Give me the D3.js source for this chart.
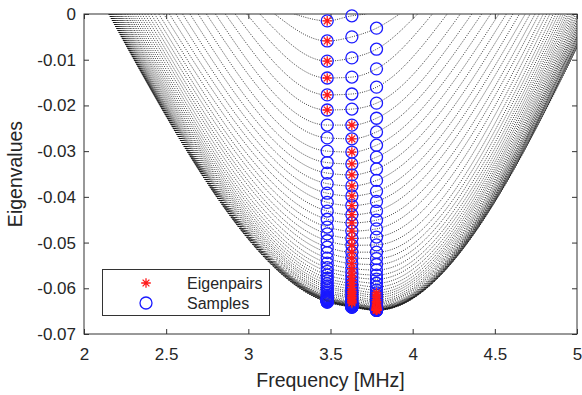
<!DOCTYPE html>
<html>
<head>
<meta charset="utf-8">
<script src="https://cdn.jsdelivr.net/npm/d3@7"></script>
<style>
  body { margin: 0; background: #fff; }
  text { font-family: "Liberation Sans", Arial, Helvetica, sans-serif; fill: #262626; }
</style>
</head>
<body>
<div id="chart"></div>
<script>
// sample frequencies (MHz) where the eigenvalue curves were sampled
const sampleFreqs = [3.48, 3.63, 3.78];

// eigenvalue of each curve (top to bottom) at 3.48, 3.63 and 3.78 MHz
const samplesA = [
  -0.0015, -0.0059, -0.0103, -0.0140, -0.0177, -0.0210, -0.0243, -0.0271, -0.0300, -0.0325,
  -0.0348, -0.0371, -0.0392, -0.0412, -0.0431, -0.0449, -0.0466, -0.0481, -0.0496, -0.0510,
  -0.0522, -0.0534, -0.0545, -0.0555, -0.0563, -0.0571, -0.0578, -0.0584, -0.0590, -0.0595,
  -0.0599, -0.0604, -0.0608, -0.0611, -0.0615, -0.0618, -0.0620, -0.0621, -0.0622, -0.0623,
  -0.0624, -0.0625, -0.0625, -0.0626, -0.0626, -0.0627, -0.0627, -0.0628, -0.0628, -0.0629,
  -0.0629, -0.0629, -0.0630, -0.0630,
];
const samplesB = [
  -0.0004, -0.0050, -0.0096, -0.0138, -0.0175, -0.0208, -0.0243, -0.0273, -0.0302, -0.0328,
  -0.0352, -0.0376, -0.0398, -0.0419, -0.0439, -0.0457, -0.0475, -0.0491, -0.0506, -0.0521,
  -0.0534, -0.0546, -0.0557, -0.0567, -0.0575, -0.0583, -0.0590, -0.0596, -0.0602, -0.0607,
  -0.0611, -0.0616, -0.0620, -0.0623, -0.0627, -0.0630, -0.0632, -0.0633, -0.0634, -0.0635,
  -0.0636, -0.0637, -0.0637, -0.0638, -0.0638, -0.0639, -0.0639, -0.0639, -0.0640, -0.0640,
  -0.0640, -0.0641, -0.0641, -0.0641,
];
const samplesC = [
  null, -0.0031, -0.0077, -0.0120, -0.0160, -0.0195, -0.0228, -0.0258, -0.0287, -0.0313,
  -0.0339, -0.0364, -0.0388, -0.0410, -0.0431, -0.0451, -0.0470, -0.0488, -0.0505, -0.0521,
  -0.0535, -0.0548, -0.0560, -0.0571, -0.0580, -0.0589, -0.0597, -0.0604, -0.0610, -0.0615,
  -0.0620, -0.0625, -0.0629, -0.0632, -0.0635, -0.0638, -0.0640, -0.0641, -0.0642, -0.0643,
  -0.0644, -0.0645, -0.0645, -0.0646, -0.0646, -0.0646, -0.0647, -0.0647, -0.0647, -0.0647,
  -0.0648, -0.0648, -0.0648, -0.0648,
];

// frequencies where each curve reaches zero on the left and on the right
const leftZeros = [
  3.28, 3.16, 3.07, 2.99, 2.92, 2.86, 2.80, 2.745, 2.695, 2.645,
  2.60, 2.56, 2.52, 2.485, 2.455, 2.43, 2.408, 2.388, 2.37, 2.353,
  2.337, 2.322, 2.308, 2.295, 2.283, 2.272, 2.262, 2.252, 2.243, 2.235,
  2.227, 2.22, 2.213, 2.207, 2.201, 2.196, 2.191, 2.186, 2.182, 2.178,
  2.174, 2.171, 2.168, 2.165, 2.163, 2.161, 2.159, 2.157, 2.156, 2.155,
  2.154, 2.153, 2.152, 2.150,
];
const rightZeros = [
  3.72, 3.92, 4.03, 4.12, 4.21, 4.29, 4.36, 4.42, 4.475, 4.525,
  4.57, 4.61, 4.65, 4.685, 4.715, 4.745, 4.77, 4.795, 4.815, 4.835,
  4.855, 4.872, 4.888, 4.903, 4.917, 4.93, 4.942, 4.953, 4.964, 4.974,
  4.984, 4.993, 5.002, 5.01, 5.018, 5.025, 5.032, 5.038, 5.044, 5.05,
  5.055, 5.06, 5.065, 5.069, 5.073, 5.077, 5.081, 5.085, 5.088, 5.091,
  5.094, 5.097, 5.099, 5.10,
];

// curve index ranges (inclusive) marked as eigenpairs in each sample column
const eigenRanges = [[0, 5], [6, 36], [28, 53]];

const xTicks = [2, 2.5, 3, 3.5, 4, 4.5, 5];
const yTicks = [0, -0.01, -0.02, -0.03, -0.04, -0.05, -0.06, -0.07];
const yTickLabels = ['0', '-0.01', '-0.02', '-0.03', '-0.04', '-0.05', '-0.06', '-0.07'];

const width = 582;
const height = 395;
const margin = { top: 14, right: 5, bottom: 61, left: 84 };
const w = width - margin.left - margin.right;
const h = height - margin.top - margin.bottom;

const svg = d3.select('#chart')
  .append('svg')
  .attr('width', width)
  .attr('height', height);

const g = svg.append('g').attr('transform', `translate(${margin.left},${margin.top})`);

const x = d3.scaleLinear().domain([2, 5]).range([0, w]);
const y = d3.scaleLinear().domain([-0.07, 0]).range([h, 0]);

g.append('clipPath').attr('id', 'plot-clip')
  .append('rect').attr('width', w).attr('height', h);

const columns = [samplesA, samplesB, samplesC];

// points of each curve: zero crossings plus the three samples
const curves = samplesA.map((_, k) => {
  const pts = [[leftZeros[k], 0]];
  columns.forEach((col, c) => {
    if (col[k] !== null) pts.push([sampleFreqs[c], col[k]]);
  });
  pts.push([rightZeros[k], 0]);
  return pts;
});

const line = d3.line()
  .x((d) => x(d[0]))
  .y((d) => y(d[1]))
  .curve(d3.curveMonotoneX);

g.append('g')
  .attr('clip-path', 'url(#plot-clip)')
  .selectAll('path')
  .data(curves)
  .enter()
  .append('path')
  .attr('d', line)
  .attr('fill', 'none')
  .attr('stroke', '#111')
  .attr('stroke-width', 0.8)
  .attr('stroke-dasharray', '1 1.3');

// axes (ticks pointing inwards, box on)
const axisColor = '#333';
const xAxis = g.append('g').attr('transform', `translate(0,${h})`)
  .call(d3.axisBottom(x).tickValues(xTicks).tickSizeInner(-5).tickSizeOuter(0).tickPadding(14)
    .tickFormat(d3.format('')));
const yAxis = g.append('g')
  .call(d3.axisLeft(y).tickValues(yTicks).tickSizeInner(-5).tickSizeOuter(0).tickPadding(8)
    .tickFormat((d, i) => yTickLabels[i]));
const xTop = g.append('g')
  .call(d3.axisTop(x).tickValues(xTicks).tickSizeInner(-5).tickSizeOuter(0).tickFormat(''));
const yRight = g.append('g').attr('transform', `translate(${w},0)`)
  .call(d3.axisRight(y).tickValues(yTicks).tickSizeInner(-5).tickSizeOuter(0).tickFormat(''));

[xAxis, yAxis, xTop, yRight].forEach((a) => {
  a.select('.domain').remove();
  a.selectAll('line').attr('stroke', axisColor);
  a.selectAll('text').style('font-size', '17px').attr('fill', '#262626');
});

g.append('rect')
  .attr('width', w)
  .attr('height', h)
  .attr('fill', 'none')
  .attr('stroke', axisColor)
  .attr('stroke-width', 1);

// sample markers
const samplePts = [];
const eigenPts = [];
columns.forEach((col, c) => {
  col.forEach((v, k) => {
    if (v === null) return;
    samplePts.push([sampleFreqs[c], v]);
    const [lo, hi] = eigenRanges[c];
    if (k >= lo && k <= hi) eigenPts.push([sampleFreqs[c], v]);
  });
});

g.append('g')
  .selectAll('circle')
  .data(samplePts)
  .enter()
  .append('circle')
  .attr('cx', (d) => x(d[0]))
  .attr('cy', (d) => y(d[1]))
  .attr('r', 6)
  .attr('fill', 'none')
  .attr('stroke', '#1a1aff')
  .attr('stroke-width', 1.3);

const star = (r) => {
  const a = r * Math.SQRT1_2;
  return `M${-r},0L${r},0M0,${-r}L0,${r}M${-a},${-a}L${a},${a}M${-a},${a}L${a},${-a}`;
};

g.append('g')
  .selectAll('path')
  .data(eigenPts)
  .enter()
  .append('path')
  .attr('transform', (d) => `translate(${x(d[0])},${y(d[1])})`)
  .attr('d', star(4.8))
  .attr('fill', 'none')
  .attr('stroke', '#ff1a1a')
  .attr('stroke-width', 1.3);

// axis titles
svg.append('text')
  .attr('x', margin.left + w / 2)
  .attr('y', 387)
  .attr('text-anchor', 'middle')
  .style('font-size', '19.5px')
  .text('Frequency [MHz]');

svg.append('text')
  .attr('transform', `translate(22,${margin.top + h / 2}) rotate(-90)`)
  .attr('text-anchor', 'middle')
  .style('font-size', '19.5px')
  .text('Eigenvalues');

// legend
const legend = svg.append('g');
legend.append('rect')
  .attr('x', 102.5)
  .attr('y', 269.5)
  .attr('width', 167)
  .attr('height', 46)
  .attr('fill', '#fff')
  .attr('stroke', axisColor)
  .attr('stroke-width', 1);
legend.append('path')
  .attr('transform', 'translate(146,283)')
  .attr('d', star(4.8))
  .attr('fill', 'none')
  .attr('stroke', '#ff1a1a')
  .attr('stroke-width', 1.3);
legend.append('circle')
  .attr('cx', 146)
  .attr('cy', 303)
  .attr('r', 6)
  .attr('fill', 'none')
  .attr('stroke', '#1a1aff')
  .attr('stroke-width', 1.3);
legend.append('text').attr('x', 187).attr('y', 288.5).style('font-size', '16px').text('Eigenpairs');
legend.append('text').attr('x', 187).attr('y', 308.5).style('font-size', '16px').text('Samples');
</script>
</body>
</html>
